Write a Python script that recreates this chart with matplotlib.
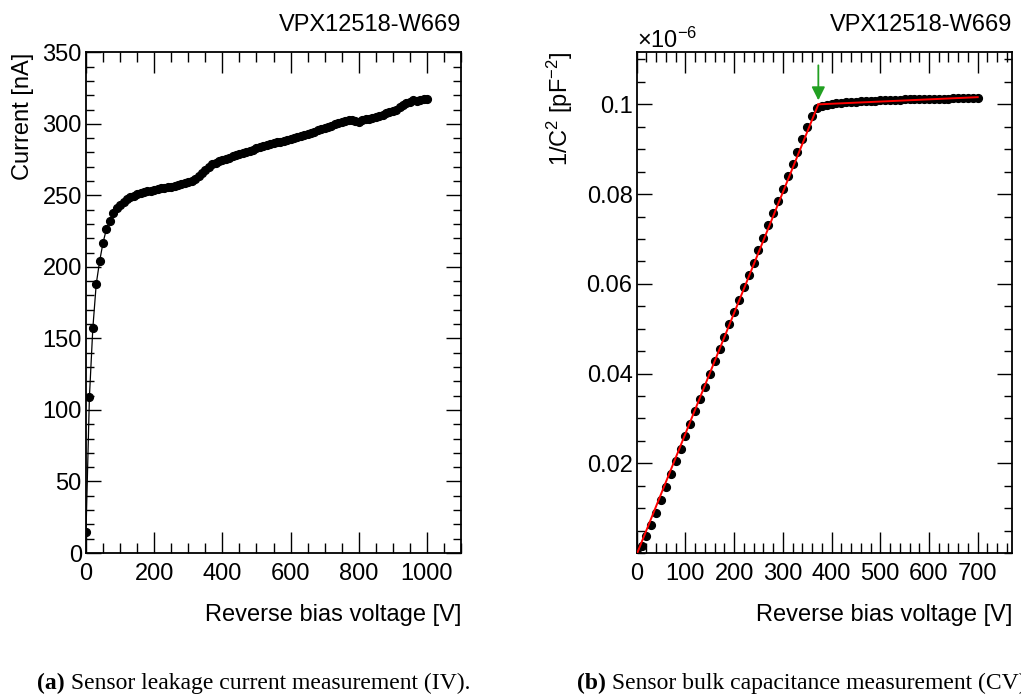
import matplotlib
matplotlib.use("Agg")
import matplotlib.pyplot as plt
from matplotlib.ticker import MultipleLocator, FixedLocator
import numpy as np

plt.rcParams['font.family'] = ['Liberation Sans', 'DejaVu Sans']
plt.rcParams['mathtext.fontset'] = 'custom'
plt.rcParams['mathtext.rm'] = 'Liberation Sans'
plt.rcParams['mathtext.it'] = 'Liberation Sans:italic'
plt.rcParams['mathtext.bf'] = 'Liberation Sans:bold'

# ---------------- data ----------------
sensor_name = "VPX12518-W669"

iv_voltage = list(range(0, 1001, 10))
iv_current = [
    14.7, 109.0, 157.0, 188.0, 204.0, 217.0, 226.5, 232.0, 237.5, 241.0,
    243.5, 245.5, 247.3, 248.7, 249.8, 250.7, 251.5, 252.2, 252.8, 253.3,
    253.8, 254.3, 254.8, 255.2, 255.6, 256.1, 256.6, 257.2, 257.8, 258.5,
    259.3, 260.3, 261.5, 263.2, 265.5, 268.0, 270.0, 271.6, 272.8, 273.8,
    274.7, 275.5, 276.4, 277.2, 278.0, 278.8, 279.6, 280.4, 281.2, 282.0,
    282.8, 283.5, 284.2, 284.9, 285.6, 286.3, 287.0, 287.6, 288.3, 289.0,
    289.6, 290.3, 291.0, 291.6, 292.3, 293.0, 293.7, 294.5, 295.4, 296.3,
    297.2, 298.0, 298.8, 299.6, 300.4, 301.2, 302.2, 302.8, 302.5, 301.8,
    301.5, 302.6, 303.4, 303.7, 304.0, 304.6, 305.4, 306.4, 307.3, 308.0,
    308.7, 309.4, 311.6, 313.3, 314.5, 315.5, 316.7, 316.0, 316.4, 317.6,
    317.3,
]

cv_voltage = list(range(0, 701, 10))
cv_inv_c2 = [  # units of 1e-6 pF^-2
    0.0000, 0.0015, 0.0037, 0.0063, 0.0090, 0.0118, 0.0146, 0.0175, 0.0204, 0.0232,
    0.0260, 0.0288, 0.0316, 0.0344, 0.0371, 0.0399, 0.0427, 0.0454, 0.0482, 0.0510,
    0.0537, 0.0565, 0.0592, 0.0620, 0.0647, 0.0675, 0.0702, 0.0730, 0.0757, 0.0785,
    0.0812, 0.0840, 0.0867, 0.0894, 0.0922, 0.0950, 0.0974, 0.0991, 0.0996, 0.0999,
    0.1001, 0.1003, 0.1004, 0.1005, 0.1006, 0.1006, 0.1007, 0.1007, 0.1008, 0.1008,
    0.1009, 0.1009, 0.1010, 0.1010, 0.1010, 0.1011, 0.1011, 0.1011, 0.1012, 0.1012,
    0.1012, 0.1013, 0.1013, 0.1013, 0.1013, 0.1014, 0.1014, 0.1014, 0.1014, 0.1015,
    0.1015,
]

# linear fits (slope, intercept) below / above depletion
fit_low = (0.000269, -0.0003)
fit_high = (0.0000049, 0.09817)
fit_low_start = 0.0
fit_high_end = 700.0

captions = [("(a)", " Sensor leakage current measurement (IV)."),
            ("(b)", " Sensor bulk capacitance measurement (CV).")]

# ---------------- figure ----------------
W, H = 1021, 695
fig = plt.figure(figsize=(W / 100, H / 100), dpi=100)

def px_axes(x0, x1, ytop, ybot):
    return fig.add_axes([x0 / W, 1 - ybot / H, (x1 - x0) / W, (ybot - ytop) / H])

axL = px_axes(86, 461, 52.3, 553)
axR = px_axes(636.7, 1012.3, 52.3, 553)

FS = 17
MS = 5.6

def root_style(ax):
    for s in ax.spines.values():
        s.set_linewidth(1.3)
    ax.tick_params(which='both', direction='in', top=True, right=True,
                   labelsize=FS, width=1.0)
    ax.tick_params(axis='x', which='major', length=15, pad=7)
    ax.tick_params(axis='x', which='minor', length=7)
    ax.tick_params(axis='y', which='major', length=11, pad=3)
    ax.tick_params(axis='y', which='minor', length=5.5)

# ---- left: IV ----
axL.plot(iv_voltage, iv_current, color='black', lw=0.9, zorder=2)
axL.plot(iv_voltage, iv_current, 'o', color='black', ms=MS, zorder=3)
axL.set_xlim(0, 1100)
axL.set_ylim(0, 350)
axL.xaxis.set_major_locator(MultipleLocator(200))
axL.xaxis.set_minor_locator(MultipleLocator(50))
axL.yaxis.set_major_locator(MultipleLocator(50))
axL.yaxis.set_minor_locator(MultipleLocator(10))
root_style(axL)
axL.set_xlabel("Reverse bias voltage [V]", fontsize=FS, loc='right', labelpad=14)
axL.set_ylabel("Current [nA]", fontsize=FS, loc='top', labelpad=6)
axL.set_title(sensor_name, fontsize=FS, loc='right', pad=15)

# ---- right: CV ----
axR.plot(cv_voltage, cv_inv_c2, 'o', color='black', ms=MS, zorder=3)
knee = (fit_high[1] - fit_low[1]) / (fit_low[0] - fit_high[0])
xl = np.array([fit_low_start, knee])
xh = np.array([knee, fit_high_end])
axR.plot(xl, fit_low[0] * xl + fit_low[1], color='#ff0000', lw=1.4, zorder=4)
axR.plot(xh, fit_high[0] * xh + fit_high[1], color='#ff0000', lw=1.4, zorder=4)
knee_val = fit_low[0] * knee + fit_low[1]
axR.annotate("", xy=(knee, knee_val + 0.0009), xytext=(knee, knee_val + 0.0087),
             arrowprops=dict(arrowstyle='-|>,head_length=0.8,head_width=0.4',
                             color='#22a022', lw=1.3, shrinkA=0, shrinkB=0), zorder=5)
axR.set_xlim(0, 771)
axR.set_ylim(0, 0.1116)
axR.xaxis.set_major_locator(MultipleLocator(100))
axR.xaxis.set_minor_locator(MultipleLocator(20))
axR.yaxis.set_major_locator(FixedLocator([0.02, 0.04, 0.06, 0.08, 0.1]))
axR.yaxis.set_minor_locator(MultipleLocator(0.005))
axR.set_yticklabels(["0.02", "0.04", "0.06", "0.08", "0.1"])
root_style(axR)
axR.set_xlabel("Reverse bias voltage [V]", fontsize=FS, loc='right', labelpad=14)
axR.set_ylabel(r"1/C$^{2}$ [pF$^{-2}$]", fontsize=FS, loc='top', labelpad=8)
axR.set_title(sensor_name, fontsize=FS, loc='right', pad=15)
axR.text(0.0, 0.998, r"$\times$10$^{-6}$", transform=axR.transAxes,
         fontsize=FS, ha='left', va='bottom')

# ---- captions ----
for (tag, rest), xpx in zip(captions, [37, 576.7]):
    t = fig.text(xpx / W, 1 - 683 / H, tag, fontsize=FS, family='Liberation Serif',
                 weight='bold', ha='left', va='center')
    fig.canvas.draw()
    bb = t.get_window_extent()
    fig.text(bb.x1 / W, 1 - 683 / H, rest, fontsize=FS, family='Liberation Serif',
             ha='left', va='center')

fig.savefig("out.png", dpi=100)
